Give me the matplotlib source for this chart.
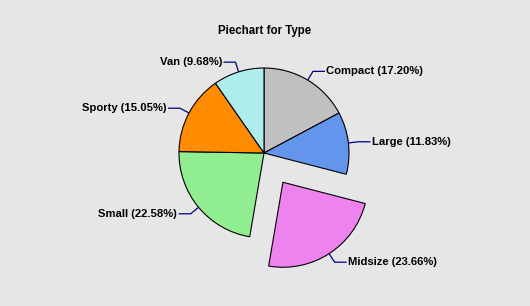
import numpy as np
import matplotlib
matplotlib.use("Agg")
import matplotlib.pyplot as plt

categories = ["Compact", "Large", "Midsize", "Small", "Sporty", "Van"]
counts = [16, 11, 22, 21, 14, 9]
colors = ["#C0C0C0", "#6495ED", "#EE82EE", "#90EE90", "#FF8C00", "#AFEEEE"]
explode = [0, 0, 0.41, 0, 0, 0]
title = "Piechart for Type"

W, H, dpi = 530, 306, 100
R = 85.0  # pixels per unit radius
cx, cy = 264.0, 153.0  # pie center in pixels (from top-left)

fig = plt.figure(figsize=(W / dpi, H / dpi), dpi=dpi, facecolor="#E6E6E6")
ax = fig.add_axes([0, 0, 1, 1])
ax.set_facecolor("#E6E6E6")

wedges, _ = ax.pie(counts, colors=colors, explode=explode, startangle=90,
                   counterclock=False, radius=1.0,
                   wedgeprops=dict(edgecolor="black", linewidth=0.8),
                   frame=True)
ax.set_xlim(-cx / R, (W - cx) / R)
ax.set_ylim(-(H - cy) / R, cy / R)
ax.set_aspect("equal")
ax.axis("off")

total = sum(counts)
fp = dict(family=["Liberation Sans", "DejaVu Sans"], weight="bold", size=8.1)
for w, cat, n, ex in zip(wedges, categories, counts, explode):
    ang = np.deg2rad((w.theta1 + w.theta2) / 2.0)
    dx, dy = np.cos(ang), np.sin(ang)
    ox, oy = ex * dx, ex * dy
    x0, y0 = ox + dx, oy + dy
    x1, y1 = ox + 1.12 * dx, oy + 1.12 * dy
    side = 1 if dx >= 0 else -1
    x2 = x1 + side * 12 / R
    ax.plot([x0, x1, x2], [y0, y1, y1], color="#000080", lw=0.9,
            solid_capstyle="butt")
    ax.text(x2 + side * 1.5 / R, y1, f"{cat} ({100 * n / total:.2f}%)",
            ha="left" if side > 0 else "right", va="center", fontdict=fp)

fig.text(265 / W, 1 - 31 / H, title, ha="center", va="center",
         family=["Liberation Sans", "DejaVu Sans"], weight="bold", size=8.3)

fig.savefig("out.png", dpi=dpi, facecolor=fig.get_facecolor())
